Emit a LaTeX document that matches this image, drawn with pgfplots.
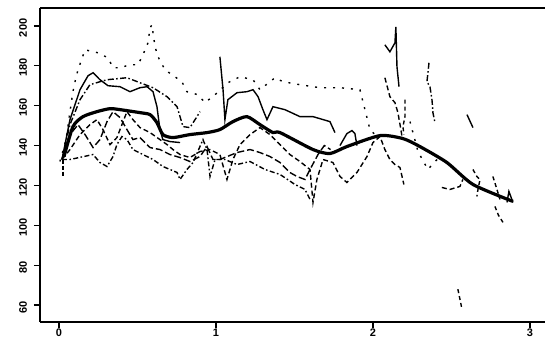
\documentclass[border=0pt]{standalone}
\usepackage{fontspec}
\setmainfont{Liberation Sans}
\usepackage{pgfplots}
\pgfplotsset{compat=1.18}
\begin{document}
\begin{tikzpicture}
\begin{axis}[
  scale only axis, width=252.5pt, height=157.2pt,
  xmin=-0.121, xmax=3.096, ymin=51.6, ymax=209.2,
  axis x line*=bottom, axis y line*=left,
  axis line style={line width=1pt},
  xtick={0,1,2,3}, ytick={60,80,100,120,140,160,180,200},
  tick align=outside, major tick length=3pt,
  tick style={line width=0.7pt, black},
  /pgf/number format/assume math mode=true,
  ticklabel style={font=\bfseries\fontsize{5.5}{6}\selectfont},
  yticklabel style={rotate=90, anchor=south, xshift=-1pt},
  xticklabel style={yshift=3pt},
  cycle list={{black, solid, mark=none, line width=0.7pt}},
  every axis plot/.append style={black, line width=0.7pt, mark=none},
  clip=true,
]
% mean (thick)
\addplot[line width=1.6pt, smooth, tension=0.4] coordinates {(0.032,134.5)(0.089,149.5)(0.153,154.5)(0.242,157)(0.325,158.5)(0.389,158)(0.516,156.5)(0.58,155.5)(0.624,151.5)(0.662,145.5)(0.726,144)(0.834,145.5)(0.943,146.5)(1.025,148)(1.108,152)(1.197,154.5)(1.28,150.5)(1.363,146.5)(1.408,146.5)(1.618,138)(1.726,136)(1.834,139.5)(2.045,145)(2.191,143.5)(2.299,139.5)(2.471,131.5)(2.637,120.5)(2.892,112)};
% A solid upper
\addplot[solid] coordinates {(0.019,133)(0.070,153)(0.134,168)(0.185,175)(0.217,176.5)(0.261,173)(0.312,170)(0.389,169.5)(0.452,167)(0.516,169)(0.561,169.5)(0.599,167)(0.624,159.5)(0.643,148)(0.662,143)(0.707,142)(0.771,141.5)};
% B solid with spike
\addplot[solid] coordinates {(1.025,184.5)(1.045,168)(1.057,153)(1.076,163)(1.134,166.5)(1.197,167)(1.236,168)(1.268,164.5)(1.299,158)(1.325,153)(1.363,159.5)(1.439,158)(1.535,154.5)(1.618,154.5)(1.726,152)(1.758,146.5)};
\addplot[solid] coordinates {(1.790,140)(1.834,146)(1.866,147.5)(1.885,146)(1.898,140)};
% C dotted top
\addplot[dash pattern=on 1pt off 3.5pt] coordinates {(0.006,132)(0.045,143)(0.070,157)(0.089,167)(0.102,172)(0.121,178)(0.166,188)(0.248,186.5)(0.312,184)(0.344,179)(0.389,179)(0.452,180.5)(0.503,180.5)(0.535,185.5)(0.567,191.5)(0.580,199)(0.592,200.5)(0.605,193)(0.624,185.5)(0.675,178)(0.783,172)(0.815,167)(0.885,165.5)(0.930,161.5)(0.994,165.5)(1.076,171.5)(1.153,174.5)(1.236,173)(1.280,168)(1.376,174)(1.427,172)(1.535,170.5)(1.662,169)(1.790,169)(1.917,168)(1.949,158)(1.981,148)(2.013,145.5)};
% D dash-dot upper
\addplot[dash pattern=on 3pt off 1.2pt on 0.8pt off 1.2pt] coordinates {(0.019,133)(0.070,150.5)(0.134,163)(0.197,170.5)(0.261,172)(0.306,173)(0.433,174)(0.516,171.5)(0.599,169)(0.688,164.5)(0.752,159.5)(0.790,149.5)(0.834,149)(0.879,154.5)(0.898,157)};
% E dashed
\addplot[dash pattern=on 2.5pt off 1.5pt] coordinates {(0.019,133)(0.070,138)(0.134,145.5)(0.197,150.5)(0.242,153)(0.280,148)(0.325,140.5)(0.369,144)(0.401,150.5)(0.433,157)(0.471,153)(0.516,149)(0.580,146.5)(0.643,143)(0.688,140.5)(0.726,138)(0.771,135.5)(0.834,134)(0.898,137)(0.962,138)(1.025,135.5)(1.070,123)(1.108,133)(1.153,140.5)(1.217,145.5)(1.280,149)(1.344,145.5)(1.408,140.5)(1.471,135.5)(1.535,132)(1.599,128)(1.618,111.5)(1.643,123)(1.682,133)(1.745,131.5)(1.790,124.5)(1.834,121.5)(1.898,126.5)(1.962,134.5)(2.0,141.5)(2.045,144.5)(2.076,138)(2.108,133)(2.140,130.5)(2.172,129)(2.197,120.5)};
% F dashed
\addplot[dash pattern=on 3.5pt off 1.5pt] coordinates {(0.019,133)(0.070,145.5)(0.121,150.5)(0.166,145.5)(0.217,139)(0.261,143)(0.306,152)(0.344,157)(0.389,154)(0.433,148)(0.471,143)(0.516,144)(0.580,139)(0.643,138)(0.707,135.5)(0.771,134)(0.834,132)(0.898,134.5)(0.943,139.5)(0.981,133)(1.025,133)(1.134,136.5)(1.217,138)(1.280,136.5)(1.344,134.5)(1.408,131.5)(1.471,126.5)(1.516,124.5)(1.567,123)(1.599,128)(1.650,135.5)(1.690,140)(1.730,138)};
% G dash-dot lower
\addplot[dash pattern=on 2.5pt off 1.2pt on 0.8pt off 1.2pt] coordinates {(0.019,133)(0.070,133)(0.217,135.5)(0.261,131.5)(0.306,129.5)(0.344,134.5)(0.369,140.5)(0.401,144.5)(0.433,143)(0.471,138)(0.535,135.5)(0.599,133)(0.662,129.5)(0.707,128)(0.752,126.5)(0.771,123)(0.815,128)(0.854,131.5)(0.917,143)(0.943,138)(0.962,124.5)(0.994,133)(1.057,133)(1.134,130.5)(1.217,132)(1.312,128)(1.408,125.5)(1.503,120.5)(1.567,118)(1.599,113)};
% short dash at start
\addplot[dash pattern=on 2pt off 1pt] coordinates {(0.026,133)(0.026,124.5)};
% right-side fragments
\addplot[solid] coordinates {(2.076,190.5)(2.108,187)(2.140,191.5)(2.146,199.5)(2.153,179.5)(2.166,169.5)};
\addplot[dash pattern=on 2.5pt off 1.5pt] coordinates {(2.076,174)(2.108,164.5)(2.140,161.5)(2.159,156.5)(2.178,148)(2.185,144.5)};
\addplot[dash pattern=on 2pt off 1.5pt] coordinates {(2.204,163)(2.204,154.5)(2.191,149.5)(2.197,145.5)};
\addplot[dash pattern=on 3pt off 1.2pt on 0.8pt off 1.2pt] coordinates {(2.357,181.5)(2.344,172)(2.363,169.5)(2.376,163)(2.382,156.5)(2.395,151.5)};
\addplot[solid] coordinates {(2.599,155.5)(2.637,149)};
\addplot[dash pattern=on 2.5pt off 1.5pt] coordinates {(2.439,119)(2.490,118)(2.554,119.5)(2.573,123)};
\addplot[dash pattern=on 2pt off 1.5pt] coordinates {(2.637,128)(2.662,124.5)(2.682,123)(2.669,118)(2.662,114.5)};
\addplot[dash pattern=on 2pt off 1.5pt] coordinates {(2.764,124.5)(2.790,118)(2.809,113)};
\addplot[dash pattern=on 2pt off 1.5pt] coordinates {(2.777,109.5)(2.800,105)(2.828,101.5)};
\addplot[solid] coordinates {(2.854,111.5)(2.866,117)(2.892,111.5)};
\addplot[dash pattern=on 2pt off 1.5pt] coordinates {(2.541,68)(2.554,63)(2.567,58)};
\addplot[dash pattern=on 1pt off 3.5pt] coordinates {(2.236,152)(2.287,137)(2.350,128)(2.408,133)};
\draw[line width=1pt] (rel axis cs:0,1) -- (rel axis cs:1,1);
\end{axis}
\pgfresetboundingbox
\path[use as bounding box] ([shift={(-20pt,-9pt)}]current axis.south west) rectangle ([shift={(0pt,3.75pt)}]current axis.north east);
\end{tikzpicture}
\end{document}
